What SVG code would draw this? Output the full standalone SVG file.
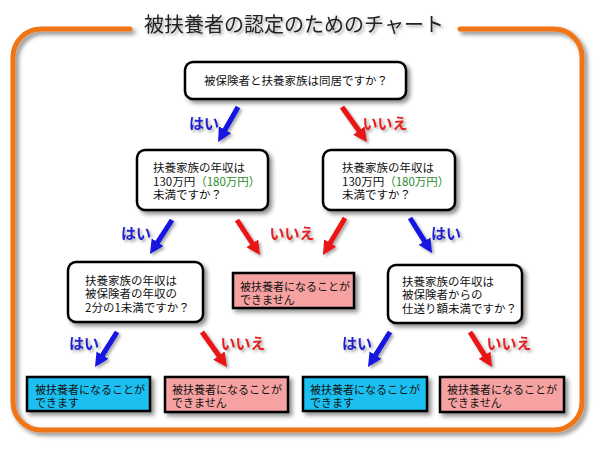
<svg xmlns="http://www.w3.org/2000/svg" width="600" height="452" viewBox="0 0 600 452">
<defs>
<filter id="sh" x="-20%" y="-20%" width="140%" height="150%">
<feDropShadow dx="3" dy="3" stdDeviation="2" flood-color="#000" flood-opacity="0.45"/>
</filter>
<filter id="glow" x="-20%" y="-30%" width="140%" height="160%">
<feDropShadow dx="2" dy="2" stdDeviation="1.5" flood-color="#000" flood-opacity="0.35"/>
</filter>
<marker id="hb" markerUnits="userSpaceOnUse" markerWidth="14" markerHeight="14" viewBox="0 0 14 14" refX="2" refY="7" orient="auto">
<path d="M0,0 L14,7 L0,14 z" fill="#1212E0"/>
</marker>
<marker id="hr" markerUnits="userSpaceOnUse" markerWidth="14" markerHeight="14" viewBox="0 0 14 14" refX="2" refY="7" orient="auto">
<path d="M0,0 L14,7 L0,14 z" fill="#EA1212"/>
</marker>
<style>
.frame{fill:none;stroke:#F07414;stroke-width:5;stroke-linecap:round}
.title{font-family:"Noto Sans CJK JP","Noto Sans",sans-serif;font-size:20px;fill:#222}
.q{fill:#fff;stroke:#000;stroke-width:2.5}
.yes{fill:#1CC0F0;stroke:#000;stroke-width:2.5}
.no{fill:#F7A2A2;stroke:#000;stroke-width:2.5}
.t{font-family:"Noto Sans CJK JP","Noto Sans",sans-serif;font-size:11.5px;fill:#111}
.r{font-family:"Noto Sans CJK JP","Noto Sans",sans-serif;font-size:11px;fill:#111}
.g{fill:#2E8B2E}
.ab{stroke:#1212E0;stroke-width:5;fill:none;marker-end:url(#hb)}
.ar{stroke:#EA1212;stroke-width:5;fill:none;marker-end:url(#hr)}
.lb{font-family:"Noto Sans CJK JP","Noto Sans",sans-serif;font-size:15px;font-weight:bold;fill:#2222CC;text-anchor:middle}
.lr{font-family:"Noto Sans CJK JP","Noto Sans",sans-serif;font-size:15px;font-weight:bold;fill:#E52020;text-anchor:middle}
</style>
</defs>
<rect width="600" height="452" fill="#fff"/>
<g id="frame" filter="url(#sh)">
<path class="frame" d="M130,29 L41,29 A28,28 0 0 0 13,57 L13,402 A28,28 0 0 0 41,430 L554,430 A28,28 0 0 0 582,402 L582,57 A28,28 0 0 0 554,29 L460,29"/>
</g>
<g id="title" filter="url(#glow)">
<text class="title" x="294" y="32" text-anchor="middle">被扶養者の認定のためのチャート</text>
</g>
<g id="connectors" filter="url(#glow)">
<line class="ab" x1="238" y1="107" x2="224" y2="131.6"/>
<line class="ar" x1="342" y1="107" x2="360" y2="132.2"/>
<line class="ab" x1="172" y1="220" x2="156.5" y2="243.9"/>
<line class="ar" x1="237" y1="220" x2="253.4" y2="245"/>
<line class="ar" x1="345" y1="218" x2="329.1" y2="244.7"/>
<line class="ab" x1="410" y1="218" x2="425.6" y2="242.8"/>
<line class="ab" x1="117" y1="332" x2="101.4" y2="356.8"/>
<line class="ar" x1="202" y1="332" x2="220" y2="357.2"/>
<line class="ab" x1="390" y1="332" x2="374.4" y2="356.8"/>
<line class="ar" x1="470" y1="332" x2="485.6" y2="356.8"/>
<text class="lb" x="204" y="129">はい</text>
<text class="lr" x="385" y="129">いいえ</text>
<text class="lb" x="136" y="239">はい</text>
<text class="lr" x="292" y="239">いいえ</text>
<text class="lb" x="446" y="239">はい</text>
<text class="lb" x="84" y="349">はい</text>
<text class="lr" x="243" y="349">いいえ</text>
<text class="lb" x="357" y="349">はい</text>
<text class="lr" x="509" y="349">いいえ</text>
</g>
<g id="q1">
<rect class="q" x="185" y="62" width="221" height="37" rx="8" filter="url(#sh)"/>
<text class="t" x="296" y="85" text-anchor="middle">被保険者と扶養家族は同居ですか？</text>
</g>
<g id="q2">
<rect class="q" x="137" y="150" width="131" height="60" rx="8" filter="url(#sh)"/>
<text class="t" x="153" y="172" font-size="12">扶養家族の年収は</text>
<text class="t" x="153" y="185.5" font-size="12">130万円<tspan class="g">（180万円）</tspan></text>
<text class="t" x="153" y="199" font-size="12">未満ですか？</text>
</g>
<g id="q3">
<rect class="q" x="323" y="150" width="132" height="60" rx="8" filter="url(#sh)"/>
<text class="t" x="342" y="172" font-size="12">扶養家族の年収は</text>
<text class="t" x="342" y="185.5" font-size="12">130万円<tspan class="g">（180万円）</tspan></text>
<text class="t" x="342" y="199" font-size="12">未満ですか？</text>
</g>
<g id="q4">
<rect class="q" x="68" y="262" width="135" height="60" rx="8" filter="url(#sh)"/>
<text class="t" x="85" y="284.5">扶養家族の年収は</text>
<text class="t" x="85" y="298">被保険者の年収の</text>
<text class="t" x="85" y="311.5">2分の1未満ですか？</text>
</g>
<g id="q5">
<rect class="q" x="388" y="265" width="134" height="58" rx="8" filter="url(#sh)"/>
<text class="t" x="402" y="285.5">扶養家族の年収は</text>
<text class="t" x="402" y="299">被保険者からの</text>
<text class="t" x="402" y="312.5">仕送り額未満ですか？</text>
</g>
<g id="r1">
<rect class="no" x="233" y="273" width="121" height="35" filter="url(#sh)"/>
<text class="r" x="240" y="291">被扶養者になることが</text>
<text class="r" x="240" y="304">できません</text>
</g>
<g id="r2">
<rect class="yes" x="27" y="377" width="123" height="34" filter="url(#sh)"/>
<text class="r" x="35" y="394">被扶養者になることが</text>
<text class="r" x="35" y="407">できます</text>
</g>
<g id="r3">
<rect class="no" x="165" y="377" width="123" height="35" filter="url(#sh)"/>
<text class="r" x="172" y="394">被扶養者になることが</text>
<text class="r" x="172" y="407">できません</text>
</g>
<g id="r4">
<rect class="yes" x="303" y="377" width="124" height="34" filter="url(#sh)"/>
<text class="r" x="310" y="394">被扶養者になることが</text>
<text class="r" x="310" y="407">できます</text>
</g>
<g id="r5">
<rect class="no" x="440" y="377" width="124" height="35" filter="url(#sh)"/>
<text class="r" x="447" y="394">被扶養者になることが</text>
<text class="r" x="447" y="407">できません</text>
</g>
</svg>
